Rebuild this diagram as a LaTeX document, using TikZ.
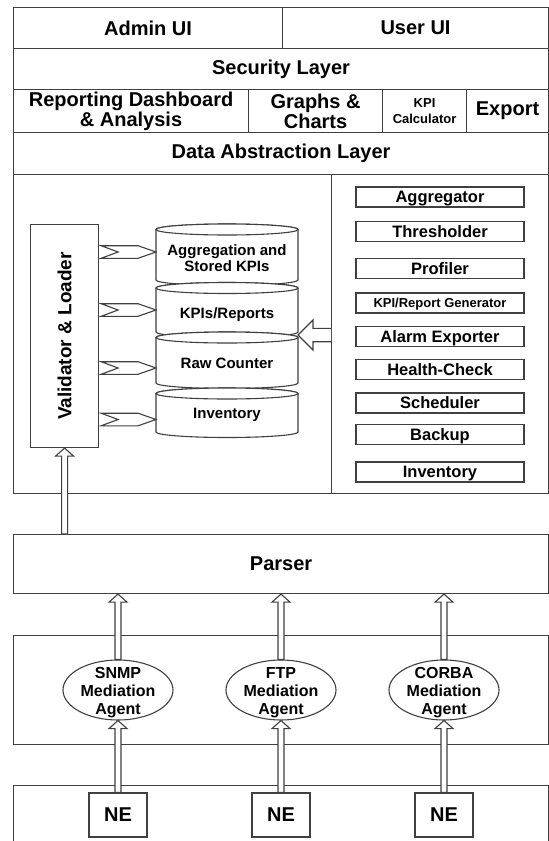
\documentclass[tikz,border=0pt]{standalone}
\usepackage{fontspec}
\setmainfont{Liberation Sans}
\usetikzlibrary{shapes.geometric,calc}
\tikzset{
    box/.style = {draw=black!75, line width=1.1pt, rectangle, inner sep=0pt, anchor=north west, align=center, font=\bfseries\fontsize{20}{20}\selectfont},
    tool/.style = {draw=black!75, line width=1.1pt, rectangle, inner sep=0pt, minimum width=168, minimum height=20, text height=11.6pt, text depth=0pt, font=\bfseries\fontsize{16.5}{18}\selectfont},
    drum/.style = {draw=black!75, line width=1.1pt, fill=white},
    drum-text/.style = {inner sep=0pt, minimum width=142, align=center, font=\bfseries\fontsize{15}{16.5}\selectfont},
    agent/.style = {draw=black!75, line width=1.1pt, fill=white, ellipse, inner sep=0pt, minimum width=110, minimum height=60},
    agent-text/.style = {inner sep=0pt, yshift=-3pt, align=center, font=\bfseries\fontsize{16}{18}\selectfont},
    ne/.style = {draw=black!75, line width=1.1pt, rectangle, inner sep=0pt, minimum width=58, minimum height=44, font=\bfseries\fontsize{20}{20}\selectfont},
    flow/.style = {draw=black!75, line width=1.1pt, fill=white, line join=miter},
}
% one database drum: name, top y, bottom y, text y, text
\newcommand{\drumdraw}[5]{%
  \draw[drum] (156,#2) -- (156,#3) arc[start angle=180, end angle=0, x radius=71, y radius=5.5]
    -- (298,#2) arc[start angle=0, end angle=-180, x radius=71, y radius=5.5] -- cycle;
  \draw[drum] (227,#2) ellipse[x radius=71, y radius=5.5];
  \node[drum-text] (#1) at (227,#4) {#5};}
% notched arrow from the loader into a drum
\newcommand{\feedarrow}[1]{%
  \draw[flow] ($(val.east |- #1)+(2,-6.3)$) -- ($(val.east |- #1)+(19,0)$) -- ($(val.east |- #1)+(2,6.3)$)
    -- ($(#1)+(-18,6.3)$) -- (#1) -- ($(#1)+(-18,-6.3)$) -- cycle;}
% hollow upward arrow
\newcommand{\liftarrow}[2]{%
  \draw[flow] ($(#1)+(-3,0)$) -- ($(#2)+(-3,8)$) -- ($(#2)+(-9,8)$) -- (#2)
    -- ($(#2)+(9,8)$) -- ($(#2)+(3,8)$) -- ($(#1)+(3,0)$) -- cycle;}

\begin{document}
\begin{tikzpicture}[x=1pt, y=-1pt]
\useasboundingbox (0,0) rectangle (549,841);

% presentation layers
\node[box, minimum width=269, minimum height=41] (admin) at (13,7) {Admin UI};
\node[box, minimum width=266, minimum height=41] (user) at (282,7) {User UI};
\node[box, minimum width=535, minimum height=41] (security) at (13,48) {Security Layer};
\node[box, minimum width=235, minimum height=43] (report) at (13,89) {Reporting Dashboard\\\& Analysis};
\node[box, minimum width=134, minimum height=43] (graphs) at (248,89) {Graphs \&\\Charts};
\node[box, minimum width=84, minimum height=43, font=\bfseries\fontsize{13}{16}\selectfont] (kpicalc) at (382,89) {KPI\\Calculator};
\node[box, minimum width=82, minimum height=43] (export) at (466,89) {Export};
\node[box, minimum width=535, minimum height=42] (dal) at (13,132) {Data Abstraction Layer};

% storage and processing
\node[box, minimum width=318, minimum height=319] (store) at (13,174) {};
\node[box, minimum width=217, minimum height=319] (tools) at (331,174) {};
\node[box, minimum width=68, minimum height=223, font=\bfseries\fontsize{19}{19}\selectfont] (val) at (30,224) {\rotatebox{90}{Validator \& Loader}};

\drumdraw{aggkpi}{229.5}{280}{258}{Aggregation and\\Stored KPIs}
\drumdraw{kpirep}{288}{332}{315}{KPIs/Reports}
\drumdraw{raw}{337.5}{383}{363}{Raw Counter}
\drumdraw{inv}{393.5}{432}{415}{Inventory}

\coordinate (aggkpi-in) at (156,252);
\coordinate (kpirep-in) at (156,310);
\coordinate (raw-in) at (156,368);
\coordinate (inv-in) at (156,419.5);
\foreach \c in {aggkpi-in, kpirep-in, raw-in, inv-in} {
  \feedarrow{\c}
}

\foreach \y/\nm/\txt in {197/aggr/Aggregator, 231.5/thresh/Thresholder, 268.5/prof/Profiler,
    336.5/alarm/Alarm Exporter, 369.5/health/Health-Check, 403/sched/Scheduler,
    434.5/backup/Backup, 472/tinv/Inventory}
  \node[tool] (\nm) at (440,\y) {\txt};
\node[tool, text height=9.3pt, font=\bfseries\fontsize{13}{15}\selectfont] (gen) at (440,303) {KPI/Report Generator};

\coordinate (dbin) at (298,335);
\draw[flow] ($(tools.west |- dbin)+(0,-6.7)$) -- ($(dbin)+(15,-6.7)$) -- ($(dbin)+(15,-15)$) -- (dbin)
  -- ($(dbin)+(15,15)$) -- ($(dbin)+(15,6.7)$) -- ($(tools.west |- dbin)+(0,6.7)$);

% parsing and mediation
\node[box, minimum width=535, minimum height=59] (parser) at (13,534) {Parser};
\node[box, minimum width=535, minimum height=109] (medbox) at (13,635) {};
\node[box, minimum width=535, minimum height=80] (nebox) at (13,785) {};

\liftarrow{val.south |- parser.north}{val.south}

\node[agent] (snmp) at (118,690) {};
\node[agent] (ftp) at (281,690) {};
\node[agent] (corba) at (444,690) {};

\node[ne] (ne1) at (118,815) {NE};
\node[ne] (ne2) at (281,815) {NE};
\node[ne] (ne3) at (444,815) {NE};

\foreach \a/\n in {snmp/ne1, ftp/ne2, corba/ne3} {
  \liftarrow{\a.north}{\a.north |- parser.south}
  \liftarrow{\n.north}{\a.south}
}

\node[agent-text] (snmp-t) at (snmp) {SNMP\\Mediation\\Agent};
\node[agent-text] (ftp-t) at (ftp) {FTP\\Mediation\\Agent};
\node[agent-text] (corba-t) at (corba) {CORBA\\Mediation\\Agent};
\end{tikzpicture}
\end{document}
